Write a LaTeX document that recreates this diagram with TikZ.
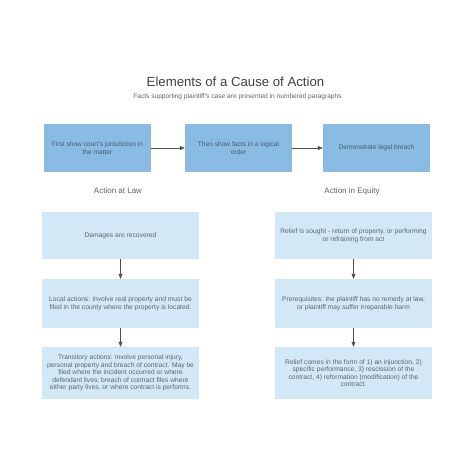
\documentclass[tikz,border=0pt]{standalone}
\usepackage{fontspec}
\setmainfont{Liberation Sans}
\usetikzlibrary{arrows.meta}
\definecolor{topblue}{RGB}{137,187,227}
\definecolor{lightblue}{RGB}{210,232,247}
\definecolor{txtgray}{RGB}{95,100,108}
\definecolor{toptxt}{RGB}{70,90,115}
\definecolor{arrgray}{RGB}{80,80,80}
\tikzset{
  topbox/.style={fill=topblue, draw=none, minimum width=107pt, minimum height=48pt, inner sep=0pt, align=center, text=toptxt, font=\fontsize{6.6}{7.8}\selectfont},
  lowbox/.style={fill=lightblue, draw=none, minimum width=157pt, inner sep=0pt, align=center, text=txtgray, font=\fontsize{6.7}{7.6}\selectfont},
  heading/.style={text=txtgray, font=\fontsize{8}{9.5}\selectfont},
  conn/.style={draw=arrgray, line width=0.5pt, -{Triangle[length=5pt,width=4pt]}}
}
\begin{document}
\begin{tikzpicture}[x=1pt,y=-1pt]
\useasboundingbox (0,0) rectangle (474,474);
\fill[white] (0,0) rectangle (474,474);
\node[text=black!75, font=\fontsize{13.2}{16}\selectfont] (title) at (235.5,82) {Elements of a Cause of Action};
\node[text=txtgray, font=\fontsize{6.6}{8}\selectfont] (subtitle) at (237.5,97) {Facts supporting plaintiff's case are presented in numbered paragraphs};

\node[topbox] (t1) at (97.5,148) {First show court's jurisdiction in\\the matter};
\node[topbox] (t2) at (238.5,148) {Then show facts in a logical\\order};
\node[topbox] (t3) at (376.5,148) {Demonstrate legal breach};
\draw[conn] (t1) -- (t2);
\draw[conn] (t2) -- (t3);

\node[heading] (law) at (118,191) {Action at Law};
\node[heading] (eq) at (352,191) {Action in Equity};

\node[lowbox, minimum height=47pt] (l1) at (120.5,235.5) {Damages are recovered};
\node[lowbox, minimum height=49pt] (l2) at (120.5,303.5) {Local actions: involve real property and must be\\filed in the county where the property is located.};
\node[lowbox, minimum height=52pt] (l3) at (120.5,373) {Transitory actions: involve personal injury,\\personal property and breach of contract. May be\\filed where the incident occurred or where\\defendant lives; breach of contract files where\\either party lives, or where contract is performs.};
\draw[conn] (l1) -- (l2);
\draw[conn] (l2) -- (l3);

\node[lowbox, minimum height=47pt] (r1) at (353.5,235.5) {Relief is sought - return of property, or performing\\or refraining from act};
\node[lowbox, minimum height=49pt] (r2) at (353.5,303.5) {Prerequisites: the plaintiff has no remedy at law,\\or plaintiff may suffer irreparable harm};
\node[lowbox, minimum height=52pt] (r3) at (353.5,373) {Relief comes in the form of 1) an injunction, 2)\\specific performance, 3) rescission of the\\contract, 4) reformation (modification) of the\\contract.};
\draw[conn] (r1) -- (r2);
\draw[conn] (r2) -- (r3);
\end{tikzpicture}
\end{document}
